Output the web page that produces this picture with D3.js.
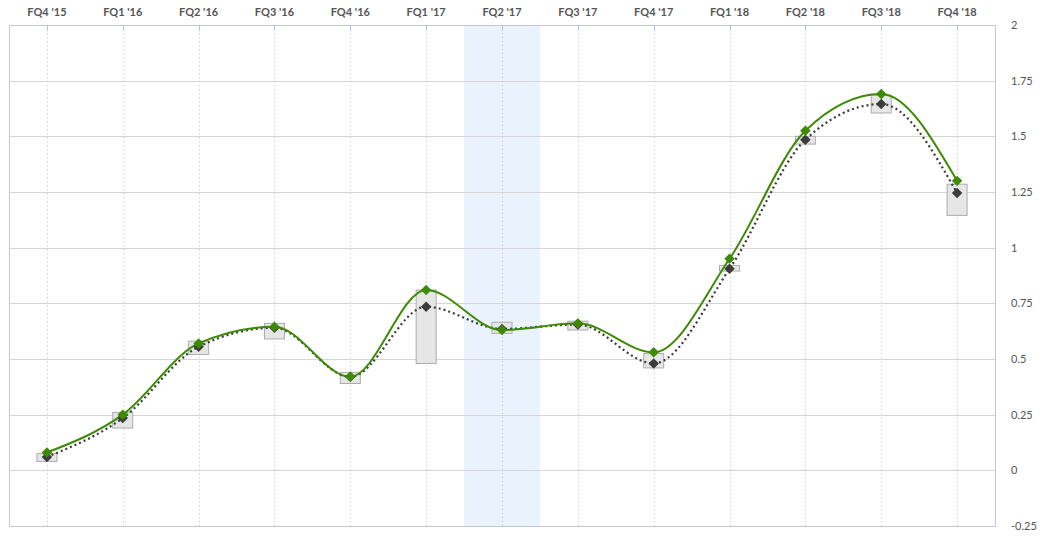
<!DOCTYPE html>
<html>
<head>
<meta charset="utf-8">
<script src="https://cdn.jsdelivr.net/npm/d3@7/dist/d3.min.js"></script>
<style>
  body { margin: 0; background: #fff; }
  svg text { font-family: "Lato", "Open Sans", sans-serif; }
</style>
</head>
<body>
<div id="chart"></div>
<script>
// quarters along the top
var quarters = ["FQ4 '15", "FQ1 '16", "FQ2 '16", "FQ3 '16", "FQ4 '16", "FQ1 '17", "FQ2 '17",
                "FQ3 '17", "FQ4 '17", "FQ1 '18", "FQ2 '18", "FQ3 '18", "FQ4 '18"];
// green line (actual)
var actual   = [0.08, 0.25, 0.57, 0.645, 0.42, 0.81, 0.63, 0.66, 0.53, 0.95, 1.525, 1.69, 1.30];
// dotted line (estimate)
var estimate = [0.06, 0.235, 0.555, 0.64, 0.42, 0.735, 0.635, 0.655, 0.48, 0.905, 1.485, 1.645, 1.245];
// estimate range boxes
var rangeHigh = [0.075, 0.26, 0.58, 0.66, 0.44, 0.81, 0.665, 0.67, 0.525, 0.92, 1.50, 1.685, 1.285];
var rangeLow  = [0.04, 0.19, 0.52, 0.59, 0.39, 0.48, 0.615, 0.63, 0.46, 0.895, 1.465, 1.605, 1.145];
var yTicks = [2, 1.75, 1.5, 1.25, 1, 0.75, 0.5, 0.25, 0, -0.25];
var highlighted = "FQ2 '17";

var W = 1047, H = 541;
var m = {top: 25, right: 52, bottom: 15, left: 9};
var iw = W - m.left - m.right, ih = H - m.top - m.bottom;

var svg = d3.select("#chart").append("svg")
    .attr("width", W).attr("height", H);
var g = svg.append("g").attr("transform", "translate(" + m.left + "," + m.top + ")");

var x = d3.scalePoint().domain(quarters).range([0, iw]).padding(0.5);
var y = d3.scaleLinear().domain([-0.25, 2]).range([ih, 0]);
var step = x.step();

// highlighted quarter
g.append("rect")
    .attr("x", x(highlighted) - step / 2)
    .attr("y", 0)
    .attr("width", step)
    .attr("height", ih)
    .attr("fill", "#eaf3fd");

// horizontal grid
g.selectAll(".hgrid").data(yTicks).enter().append("line")
    .attr("x1", 0).attr("x2", iw)
    .attr("y1", function(d) { return Math.round(y(d)) + 0.5; })
    .attr("y2", function(d) { return Math.round(y(d)) + 0.5; })
    .attr("stroke", "#d6d6d6");

// vertical dotted grid
g.selectAll(".vgrid").data(quarters).enter().append("line")
    .attr("x1", function(d) { return Math.round(x(d)) + 0.5; })
    .attr("x2", function(d) { return Math.round(x(d)) + 0.5; })
    .attr("y1", 0).attr("y2", ih)
    .attr("stroke", "#c4c4c4")
    .attr("stroke-dasharray", "1,3");

// border
g.append("rect")
    .attr("x", 0.5).attr("y", 0.5)
    .attr("width", iw).attr("height", ih)
    .attr("fill", "none")
    .attr("stroke", "#c3c8d3");

// top tick marks + labels
g.selectAll(".tick").data(quarters).enter().append("line")
    .attr("x1", function(d) { return Math.round(x(d)) + 0.5; })
    .attr("x2", function(d) { return Math.round(x(d)) + 0.5; })
    .attr("y1", 0).attr("y2", 6)
    .attr("stroke", "#b8c4da");

g.selectAll(".qlabel").data(quarters).enter().append("text")
    .attr("x", function(d) { return x(d); })
    .attr("y", -9)
    .attr("text-anchor", "middle")
    .attr("font-size", 11)
    .attr("font-weight", "bold")
    .attr("fill", "#555")
    .text(function(d) { return d; });

// right axis labels
g.selectAll(".ylabel").data(yTicks).enter().append("text")
    .attr("x", iw + 16)
    .attr("y", function(d) { return y(d); })
    .attr("dy", "0.35em")
    .attr("font-size", 11)
    .attr("fill", "#555")
    .text(function(d) { return d; });

// range boxes
var boxW = 20;
g.selectAll(".box").data(quarters).enter().append("rect")
    .attr("x", function(d) { return x(d) - boxW / 2; })
    .attr("y", function(d, i) { return y(rangeHigh[i]); })
    .attr("width", boxW)
    .attr("height", function(d, i) { return y(rangeLow[i]) - y(rangeHigh[i]); })
    .attr("fill", "#e6e6e6")
    .attr("stroke", "#acacac");

var line = function(vals) {
  return d3.line()
    .x(function(d, i) { return x(quarters[i]); })
    .y(function(d) { return y(d); })
    .curve(d3.curveMonotoneX)(vals);
};

g.append("path")
    .attr("d", line(estimate))
    .attr("fill", "none")
    .attr("stroke", "#3a3a3a")
    .attr("stroke-width", 2.2)
    .attr("stroke-dasharray", "2,3");

g.append("path")
    .attr("d", line(actual))
    .attr("fill", "none")
    .attr("stroke", "#3d8a05")
    .attr("stroke-width", 2);

var diamond = d3.symbol().type(d3.symbolDiamond2).size(70);

g.selectAll(".est").data(estimate).enter().append("path")
    .attr("d", diamond)
    .attr("transform", function(d, i) { return "translate(" + x(quarters[i]) + "," + y(d) + ")"; })
    .attr("fill", "#3c3c3c");

g.selectAll(".act").data(actual).enter().append("path")
    .attr("d", diamond)
    .attr("transform", function(d, i) { return "translate(" + x(quarters[i]) + "," + y(d) + ")"; })
    .attr("fill", "#3d8a05");
</script>
</body>
</html>
